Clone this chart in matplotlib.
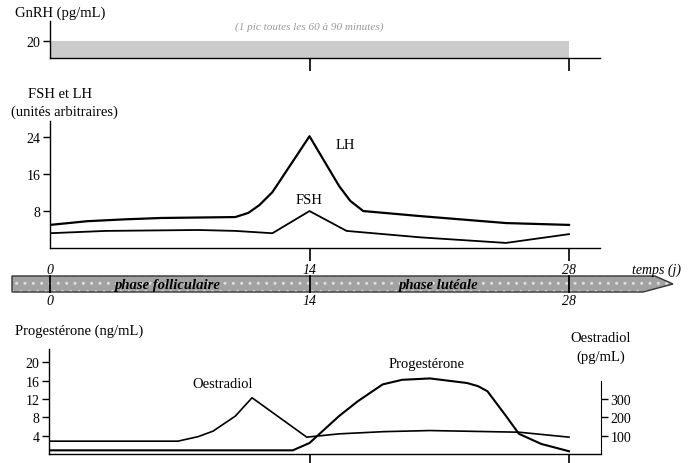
import numpy as np
import matplotlib
matplotlib.use("Agg")
from matplotlib import pyplot as plt
from matplotlib.patches import Polygon

plt.rcParams['font.family'] = ['Liberation Serif', 'DejaVu Serif']

# --- data (days of the cycle) ---
gnrhLevel = 20
gnrhEnd = 28

lhDays = [0, 2, 4, 6, 8, 10, 10.7, 11.3, 12, 14, 15.6, 16.2, 16.9, 20, 24.6, 28]
lhValues = [5.0, 5.8, 6.2, 6.5, 6.6, 6.7, 7.6, 9.3, 12.1, 24.2, 13.4, 10.2, 8.0, 6.9, 5.4, 5.0]

fshDays = [0, 3, 8, 10, 12, 14, 16, 20, 24.6, 28]
fshValues = [3.2, 3.7, 3.9, 3.7, 3.2, 8.0, 3.7, 2.3, 1.1, 3.0]

oestroDays = [0, 6.9, 8.0, 8.8, 10.0, 10.9, 13.85, 15.6, 18, 20.5, 25.3, 28]
oestroValues = [70, 70, 95, 125, 207, 307, 92, 110, 122, 128, 119, 92]

progDays = [0, 13.1, 14, 15.6, 16.6, 17.4, 17.95, 19, 20.5, 22.5, 23.1, 23.6,
            24.6, 25.3, 26.5, 28]
progValues = [0.8, 0.8, 2.4, 8.3, 11.5, 13.7, 15.2, 16.2, 16.5, 15.5, 14.8, 13.7,
              8.3, 4.4, 2.2, 0.6]

phaseTicks = [0, 14, 28]
phaseNames = ['phase folliculaire', 'phase lutéale']

# --- layout helpers (pixel -> figure fraction) ---
W, H = 696, 464
PX_PER_DAY = (569 - 50) / 28.0


def rect(top, bottom, left=50, right=600):
    return [left / W, 1 - bottom / H, (right - left) / W, (bottom - top) / H]


def styleAxes(ax):
    for s in ['top', 'right']:
        ax.spines[s].set_visible(False)
    ax.spines['left'].set_linewidth(1.0)
    ax.spines['bottom'].set_linewidth(1.0)
    ax.set_xlim(0, 550 / PX_PER_DAY)
    ax.set_xticks([14, 28])
    ax.set_xticklabels([])
    ax.tick_params(axis='x', direction='out', length=9, width=1.2)
    ax.tick_params(axis='y', direction='out', length=5, width=1, labelsize=10, pad=2)
    ax.patch.set_alpha(0)


fig = plt.figure(figsize=(6.96, 4.64), dpi=100)

# GnRH panel
ax1 = fig.add_axes(rect(22, 59))
styleAxes(ax1)
ax1.set_ylim(0, 43.5)
ax1.set_yticks([gnrhLevel])
ax1.fill_between([0, gnrhEnd], 0, gnrhLevel, color='#cbcbcb', lw=0)
ax1.text(14, 37, '(1 pic toutes les 60 à 90 minutes)', ha='center', va='center',
         style='italic', fontsize=8, color='#9a9a9a')
fig.text(15 / W, 1 - 13 / H, 'GnRH (pg/mL)', ha='left', va='center', fontsize=10.5)

# FSH / LH panel
ax2 = fig.add_axes(rect(122, 249))
styleAxes(ax2)
ax2.set_ylim(0, 27.5)
ax2.set_yticks([8, 16, 24])
ax2.plot(lhDays, lhValues, color='black', lw=1.6)
ax2.plot(fshDays, fshValues, color='black', lw=1.3)
ax2.text(15.4, 22.5, 'LH', fontsize=10.5, ha='left', va='center')
ax2.text(14, 10.5, 'FSH', fontsize=10.5, ha='center', va='center')
fig.text(60 / W, 1 - 94 / H, 'FSH et LH', ha='center', va='center', fontsize=10.5)
fig.text(64 / W, 1 - 112 / H, '(unités arbitraires)', ha='center', va='center', fontsize=10.5)

# time band
axb = fig.add_axes([0, 1 - 310 / H, 1, 48 / H])
axb.set_xlim(-50 / PX_PER_DAY, 646 / PX_PER_DAY)
axb.set_ylim(310, 262)
axb.axis('off')
d = lambda px: (px - 50) / PX_PER_DAY
bandTop, bandBot = 277, 293
shape = [(d(12), bandTop), (d(655), bandTop), (d(673), 285), (d(643), bandBot), (d(12), bandBot)]
axb.add_patch(Polygon(shape, closed=True, facecolor='#a2a2a2', edgecolor='#dddddd',
                      hatch='..', lw=0))
axb.add_patch(Polygon(shape, closed=True, facecolor='none', edgecolor='#333333', lw=1.0))
for t in phaseTicks:
    axb.plot([t, t], [bandTop, bandBot], color='black', lw=1.3)
    axb.text(t, 270, str(t), ha='center', va='center', style='italic', fontsize=10)
    axb.text(t, 302, str(t), ha='center', va='center', style='italic', fontsize=10)
axb.text(6.3, 285.5, phaseNames[0], ha='center', va='center', style='italic',
         weight='bold', fontsize=10.5)
axb.text(20.9, 285.5, phaseNames[1], ha='center', va='center', style='italic',
         weight='bold', fontsize=10.5)
axb.text(d(656), 270, 'temps (j)', ha='center', va='center', style='italic', fontsize=10)

# steroid panel
ax4 = fig.add_axes(rect(350, 455, left=49, right=601))
styleAxes(ax4)
ax4.set_xlim(-1 / PX_PER_DAY, 551 / PX_PER_DAY)
ax4.set_ylim(0, 105 / 4.58)
ax4.set_yticks([4, 8, 12, 16, 20])
ax4.plot(progDays, progValues, color='black', lw=1.5)
ax4r = ax4.twinx()
ax4r.set_ylim(0, 105 / 4.58 * 25)
ax4r.spines['top'].set_visible(False)
ax4r.spines['left'].set_visible(False)
ax4r.spines['bottom'].set_visible(False)
ax4r.spines['right'].set_bounds(0, 396)
ax4r.set_yticks([100, 200, 300])
ax4r.tick_params(axis='y', direction='out', length=5, width=1, labelsize=10, pad=2)
ax4r.plot(oestroDays, oestroValues, color='black', lw=1.2)
ax4.text(9.3, 15.5, 'Oestradiol', fontsize=10.5, ha='center', va='center')
ax4.text(20.3, 19.8, 'Progestérone', fontsize=10.5, ha='center', va='center')
fig.text(15 / W, 1 - 331 / H, 'Progestérone (ng/mL)', ha='left', va='center', fontsize=10.5)
fig.text(601 / W, 1 - 339 / H, 'Oestradiol', ha='center', va='center', fontsize=10.5)
fig.text(601 / W, 1 - 357 / H, '(pg/mL)', ha='center', va='center', fontsize=10.5)

fig.savefig('out.png', dpi=100)
